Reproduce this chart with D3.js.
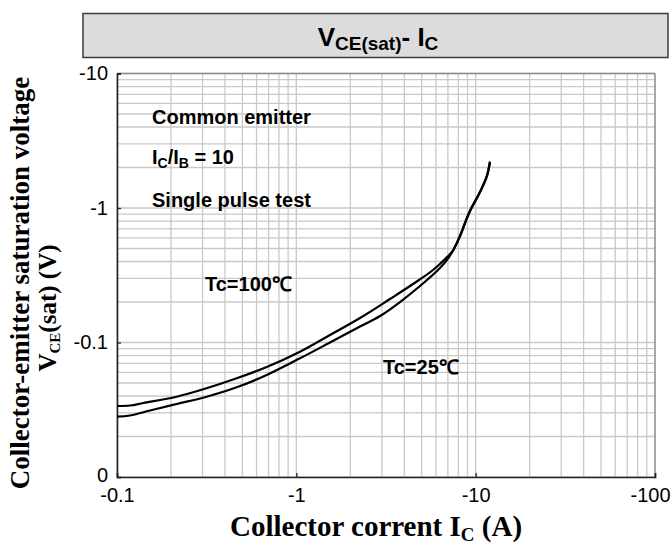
<!DOCTYPE html>
<html><head><meta charset="utf-8">
<script src="https://cdn.jsdelivr.net/npm/d3@7"></script>
<style>body{margin:0;background:#fff}svg{display:block}</style>
</head><body>
<script>
// ---- data ----
const icTc100 = [-0.1,-0.1182,-0.1402,-0.2152,-0.3029,-0.4651,-0.6835,-1.048,-1.541,-2.265,-3.33,-4.474,-5.783,-6.922,-7.506,-8.178,-8.722,-9.298,-10.57,-11.52,-12.02];
const vTc100  = [-0.03372,-0.03401,-0.03549,-0.03954,-0.04487,-0.05418,-0.06573,-0.08543,-0.1137,-0.1521,-0.2106,-0.2722,-0.3459,-0.4322,-0.4873,-0.6193,-0.7735,-0.95,-1.315,-1.709,-2.209];
const icTc25 = [-0.1,-0.1182,-0.1528,-0.2152,-0.3164,-0.4651,-0.6835,-1.048,-1.541,-2.265,-2.929,-3.785,-4.894,-6.326,-7.04,-7.506,-8.178,-8.722,-9.298,-10.57,-11.52,-12.02];
const vTc25  = [-0.02807,-0.02865,-0.03122,-0.0349,-0.03954,-0.04643,-0.05733,-0.07626,-0.1,-0.1315,-0.1574,-0.2,-0.263,-0.358,-0.4249,-0.4873,-0.6193,-0.7735,-0.95,-1.315,-1.709,-2.209];
const xTickValues = [-0.1,-1,-10,-100];
const xTickLabels = ["-0.1","-1","-10","-100"];
const yTickValues = [-0.01,-0.1,-1,-10];
const yTickLabels = ["0","-0.1","-1","-10"];
const seriesLabels = ["Tc=100\u2103","Tc=25\u2103"];

const W=671,H=547;
const svg=d3.select("body").append("svg").attr("width",W).attr("height",H);
const L=117,R=655,T=73.5,B=477;
const x=d3.scaleLog().domain([-0.1,-100]).range([L,R]);
const y=d3.scaleLog().domain([-0.01,-10]).range([B,T]);
const af="Liberation Sans, Arial, sans-serif";
const sf="Liberation Serif, 'Times New Roman', serif";

// title box
svg.append("rect").attr("x",83).attr("y",13.5).attr("width",585).attr("height",44)
  .attr("fill","#dcdcdc").attr("stroke","#3a3a3a").attr("stroke-width",1.5);
const tt=svg.append("text").attr("x",378).attr("y",46).attr("text-anchor","middle")
  .attr("font-family",af).attr("font-weight","bold").attr("font-size",26).attr("fill","#000");
tt.append("tspan").text("V");
tt.append("tspan").attr("font-size",19).attr("dy",4).text("CE(sat)");
tt.append("tspan").attr("dy",-4).text("- I");
tt.append("tspan").attr("font-size",19).attr("dy",4).text("C");

// grid
const g=svg.append("g");
const xg=x.ticks().filter(v=>v<=-0.1&&v>=-100);
const yg=y.ticks().filter(v=>v<=-0.01&&v>=-10);
g.selectAll(".gx").data(xg).enter().append("line")
  .attr("x1",d=>x(d)).attr("x2",d=>x(d)).attr("y1",T).attr("y2",B)
  .attr("stroke","#c9c9c9").attr("stroke-width",1.3);
g.selectAll(".gy").data(yg).enter().append("line")
  .attr("y1",d=>y(d)).attr("y2",d=>y(d)).attr("x1",L).attr("x2",R)
  .attr("stroke","#c9c9c9").attr("stroke-width",1.3);

// frame
svg.append("line").attr("x1",L).attr("x2",R).attr("y1",T).attr("y2",T).attr("stroke","#8c8c8c").attr("stroke-width",1.3);
svg.append("line").attr("x1",R).attr("x2",R).attr("y1",T).attr("y2",B).attr("stroke","#8c8c8c").attr("stroke-width",1.3);

// axes
const xAxis=d3.axisBottom(x).tickValues(xTickValues).tickSize(-4).tickPadding(11)
  .tickFormat((d,i)=>xTickLabels[i]);
const ya=d3.axisLeft(y).tickValues(yTickValues).tickSize(-4).tickPadding(9)
  .tickFormat((d,i)=>yTickLabels[i]);
const gx=svg.append("g").attr("transform",`translate(0,${B})`).call(xAxis);
const gy=svg.append("g").attr("transform",`translate(${L},0)`).call(ya);
[gx,gy].forEach(a=>{
  a.select(".domain").attr("stroke","#222").attr("stroke-width",1.6);
  a.selectAll(".tick line").attr("stroke","#222").attr("stroke-width",1.3);
  a.selectAll(".tick text").attr("font-family",af).attr("font-size",20).attr("fill","#000");
});
gx.selectAll(".tick text").filter((d,i)=>i===xTickValues.length-1)
  .attr("text-anchor","end").attr("x",15);
gy.selectAll(".tick text").filter((d,i)=>i===0).attr("y",-2);

// curves
const lineGen=d3.line().x(d=>x(d[0])).y(d=>y(d[1])).curve(d3.curveCatmullRom.alpha(0.5));
const s100=icTc100.map((v,i)=>[v,vTc100[i]]);
const s25=icTc25.map((v,i)=>[v,vTc25[i]]);
[s100,s25].forEach(s=>{
  svg.append("path").datum(s).attr("d",lineGen)
    .attr("fill","none").attr("stroke","#000").attr("stroke-width",2.2).attr("stroke-linejoin","round");
});

// annotations
function txt(xx,yy,t){return svg.append("text").attr("x",xx).attr("y",yy).attr("font-family",af).attr("font-weight","bold").attr("font-size",20).attr("fill","#000").text(t);}
txt(152,124,"Common emitter");
const ib=svg.append("text").attr("x",152).attr("y",164).attr("font-family",af).attr("font-weight","bold").attr("font-size",20).attr("fill","#000");
ib.append("tspan").text("I");
ib.append("tspan").attr("font-size",14).attr("dy",4).text("C");
ib.append("tspan").attr("dy",-4).text("/I");
ib.append("tspan").attr("font-size",14).attr("dy",4).text("B");
ib.append("tspan").attr("dy",-4).text(" = 10");
txt(152,206.5,"Single pulse test");
txt(205,291,seriesLabels[0]);
txt(383,373.5,seriesLabels[1]);

// axis titles
const xt=svg.append("text").attr("x",376).attr("y",536).attr("text-anchor","middle")
  .attr("font-family",sf).attr("font-weight","bold").attr("font-size",29).attr("fill","#000");
xt.append("tspan").text("Collector corrent I");
xt.append("tspan").attr("font-size",19).attr("dy",5).text("C");
xt.append("tspan").attr("dy",-5).text(" (A)");

svg.append("text").attr("transform","translate(29,283) rotate(-90)").attr("text-anchor","middle")
  .attr("font-family",sf).attr("font-weight","bold").attr("font-size",27).attr("fill","#000")
  .text("Collector-emitter saturation voltage");
const y2=svg.append("text").attr("transform","translate(56,308) rotate(-90)").attr("text-anchor","middle")
  .attr("font-family",sf).attr("font-weight","bold").attr("font-size",25).attr("fill","#000");
y2.append("tspan").text("V");
y2.append("tspan").attr("font-size",15).attr("dy",4).text("CE");
y2.append("tspan").attr("dy",-4).text("(sat) (V)");
</script>
</body></html>
